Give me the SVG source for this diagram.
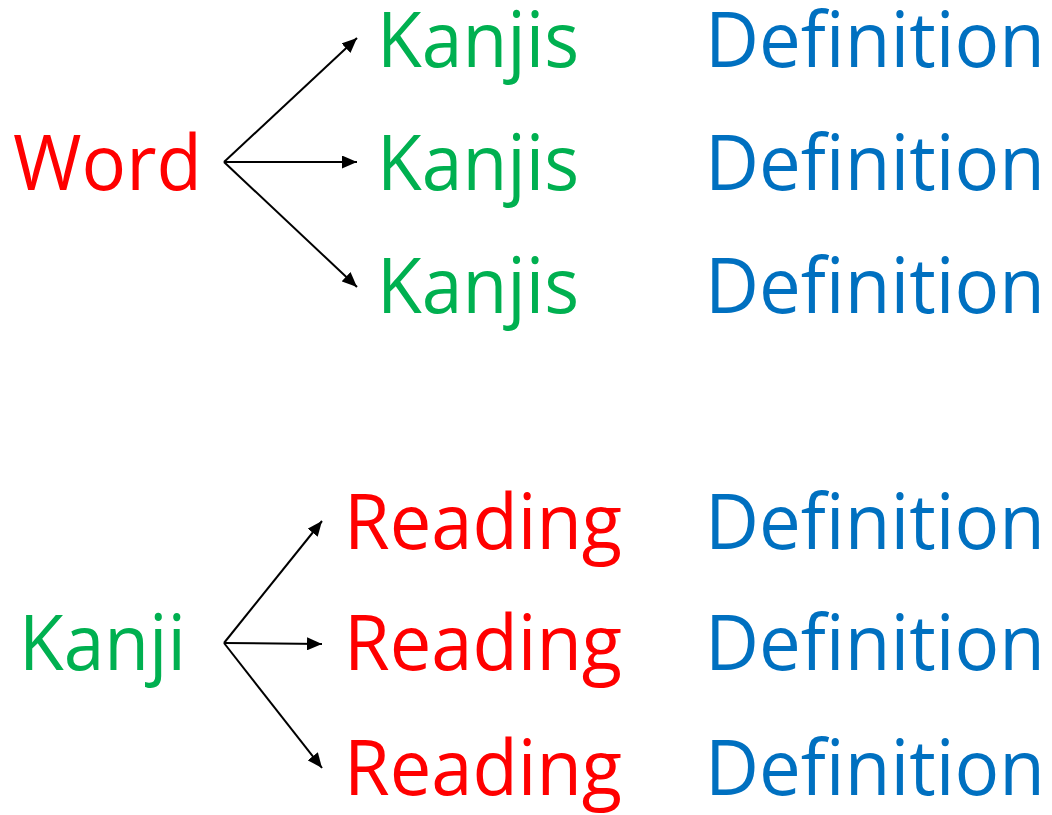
<svg xmlns="http://www.w3.org/2000/svg" width="1052" height="815" viewBox="0 0 1052 815">
  <style>
    text { font-family: "Open Sans", "Noto Sans", "Liberation Sans", sans-serif; font-size: 76px; }
    .red { fill: #FF0000; }
    .green { fill: #00B050; }
    .blue { fill: #0070C0; }
    .arrow { stroke: #000000; stroke-width: 2; fill: none; marker-end: url(#head); }
  </style>
  <defs>
    <marker id="head" markerUnits="userSpaceOnUse" markerWidth="15" markerHeight="13" viewBox="0 0 15 13" refX="15" refY="6.5" orient="auto">
      <path d="M0,0 L15,6.5 L0,13 z" fill="#000000"/>
    </marker>
  </defs>
  <rect width="1052" height="815" fill="#ffffff"/>

  <!-- word -> kanjis -->
  <g id="word"><text class="red" x="13" y="190" textLength="189" lengthAdjust="spacingAndGlyphs">Word</text></g>
  <g id="kanjis-1"><text class="green" x="377" y="67" textLength="202" lengthAdjust="spacingAndGlyphs">Kanjis</text></g>
  <g id="kanjis-2"><text class="green" x="377" y="190" textLength="202" lengthAdjust="spacingAndGlyphs">Kanjis</text></g>
  <g id="kanjis-3"><text class="green" x="377" y="313" textLength="202" lengthAdjust="spacingAndGlyphs">Kanjis</text></g>
  <g id="def-1"><text class="blue" x="705" y="67" textLength="340" lengthAdjust="spacingAndGlyphs">Definition</text></g>
  <g id="def-2"><text class="blue" x="705" y="190" textLength="340" lengthAdjust="spacingAndGlyphs">Definition</text></g>
  <g id="def-3"><text class="blue" x="705" y="313" textLength="340" lengthAdjust="spacingAndGlyphs">Definition</text></g>

  <!-- kanji -> readings -->
  <g id="kanji"><text class="green" x="19" y="670" textLength="167" lengthAdjust="spacingAndGlyphs">Kanji</text></g>
  <g id="reading-1"><text class="red" x="344" y="549" textLength="278" lengthAdjust="spacingAndGlyphs">Reading</text></g>
  <g id="reading-2"><text class="red" x="344" y="670" textLength="278" lengthAdjust="spacingAndGlyphs">Reading</text></g>
  <g id="reading-3"><text class="red" x="344" y="795" textLength="278" lengthAdjust="spacingAndGlyphs">Reading</text></g>
  <g id="def-4"><text class="blue" x="705" y="549" textLength="340" lengthAdjust="spacingAndGlyphs">Definition</text></g>
  <g id="def-5"><text class="blue" x="705" y="670" textLength="340" lengthAdjust="spacingAndGlyphs">Definition</text></g>
  <g id="def-6"><text class="blue" x="705" y="795" textLength="340" lengthAdjust="spacingAndGlyphs">Definition</text></g>

  <g id="connectors">
    <line class="arrow" x1="224" y1="162" x2="357" y2="38"/>
    <line class="arrow" x1="224" y1="162" x2="357" y2="162"/>
    <line class="arrow" x1="224" y1="162" x2="357" y2="287"/>
    <line class="arrow" x1="224" y1="643" x2="322" y2="521"/>
    <line class="arrow" x1="224" y1="643" x2="322" y2="644"/>
    <line class="arrow" x1="224" y1="643" x2="322" y2="768"/>
  </g>
</svg>
